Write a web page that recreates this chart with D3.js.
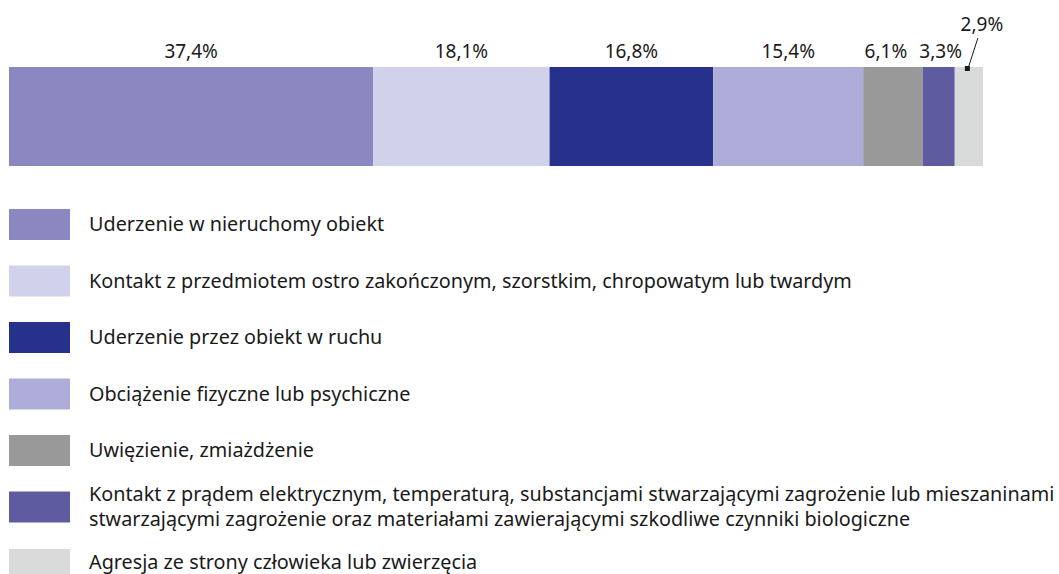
<!DOCTYPE html>
<html>
<head>
<meta charset="utf-8">
<script src="https://cdn.jsdelivr.net/npm/d3@7"></script>
<style>
  body { margin: 0; background: #fff; }
  text { font-family: "Noto Sans", sans-serif; fill: #1a1a1a; }
</style>
</head>
<body>
<div id="chart"></div>
<script>
var categories = [
  "Uderzenie w nieruchomy obiekt",
  "Kontakt z przedmiotem ostro zakończonym, szorstkim, chropowatym lub twardym",
  "Uderzenie przez obiekt w ruchu",
  "Obciążenie fizyczne lub psychiczne",
  "Uwięzienie, zmiażdżenie",
  "Kontakt z prądem elektrycznym, temperaturą, substancjami stwarzającymi zagrożenie lub mieszaninami\nstwarzającymi zagrożenie oraz materiałami zawierającymi szkodliwe czynniki biologiczne",
  "Agresja ze strony człowieka lub zwierzęcia"
];
var values = [37.4, 18.1, 16.8, 15.4, 6.1, 3.3, 2.9];
var colors = ["#8a87c1", "#d1d1ec", "#25318a", "#aeacd8", "#999999", "#5e5ba0", "#d9dada"];

var width = 1059, height = 574;
var svg = d3.select("#chart").append("svg")
    .attr("width", width)
    .attr("height", height);

var x = d3.scaleLinear().domain([0, 100]).range([9, 983]);
var barTop = 67, barHeight = 99;

// cumulative starts
var starts = [];
values.reduce(function(acc, v) { starts.push(acc); return acc + v; }, 0);

var fmt = function(v) { return d3.format(".1f")(v).replace(".", ",") + "%"; };

var seg = svg.append("g").attr("class", "bar");
seg.selectAll("rect")
    .data(values)
  .enter().append("rect")
    .attr("x", function(d, i) { return x(starts[i]); })
    .attr("y", barTop)
    .attr("width", function(d) { return x(d) - x(0); })
    .attr("height", barHeight)
    .attr("fill", function(d, i) { return colors[i]; });

// value labels (narrow segments nudged apart, last one pulled out with a leader line)
var last = values.length - 1;
var nudge = function(i) { return i === 4 ? -7 : i === 5 ? 2 : i === last ? 13 : 0; };
seg.selectAll("text.val")
    .data(values)
  .enter().append("text")
    .attr("class", "val")
    .attr("text-anchor", "middle")
    .attr("font-size", 19)
    .attr("x", function(d, i) { return x(starts[i] + d / 2) + nudge(i); })
    .attr("y", function(d, i) { return i === last ? 31 : 58; })
    .text(fmt);

var lx = x(starts[last] + values[last] / 2);
seg.append("line")
    .attr("x1", lx - 1).attr("y1", barTop + 2)
    .attr("x2", lx + 9).attr("y2", 38)
    .attr("stroke", "#1a1a1a").attr("stroke-width", 1);
seg.append("rect")
    .attr("x", lx - 4).attr("y", barTop - 1)
    .attr("width", 5).attr("height", 5)
    .attr("fill", "#1a1a1a");

// legend
var legendTop = 209, rowStep = 56.5;
var legend = svg.append("g").attr("class", "legend");
var rows = legend.selectAll("g")
    .data(categories)
  .enter().append("g")
    .attr("transform", function(d, i) {
      var y = legendTop + rowStep * i + (i === 6 ? 1 : 0);
      return "translate(9," + y + ")";
    });

rows.append("rect")
    .attr("width", 61)
    .attr("height", 31)
    .attr("fill", function(d, i) { return colors[i]; });

rows.append("text")
    .attr("x", 80)
    .attr("font-size", 19.8)
    .each(function(d, i) {
      var lines = d.split("\n");
      var t = d3.select(this);
      var cy = i === 6 ? 13.5 : 15.5;
      lines.forEach(function(l, j) {
        t.append("tspan")
          .attr("x", 80)
          .attr("y", cy + (j - (lines.length - 1) / 2) * 25)
          .attr("dy", "0.35em")
          .text(l);
      });
    });
</script>
</body>
</html>
